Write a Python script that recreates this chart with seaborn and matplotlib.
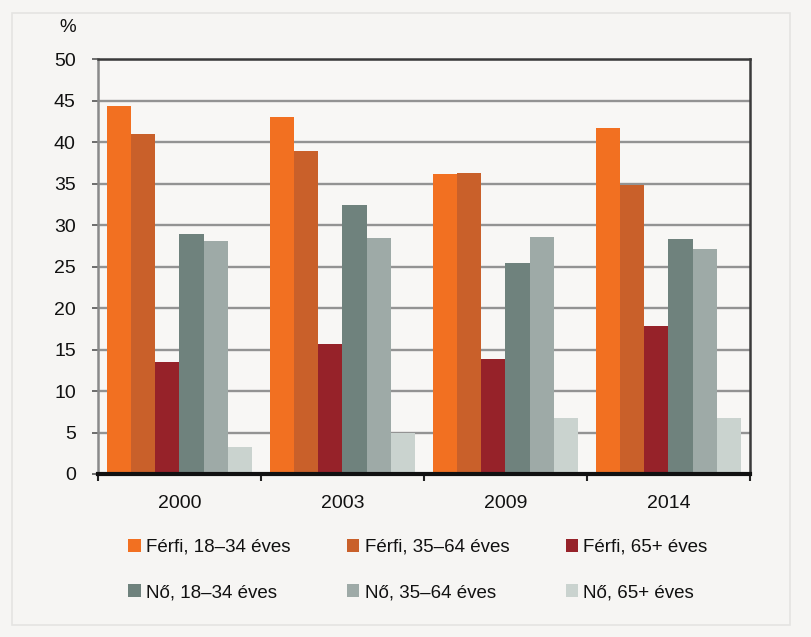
import matplotlib
matplotlib.use("Agg")
import matplotlib.pyplot as plt
import seaborn as sns
import pandas as pd
from matplotlib.patches import Rectangle, Patch
from matplotlib.ticker import FixedLocator

years = ["2000", "2003", "2009", "2014"]
groups = ["Férfi, 18–34 éves", "Férfi, 35–64 éves", "Férfi, 65+ éves",
          "Nő, 18–34 éves", "Nő, 35–64 éves", "Nő, 65+ éves"]
ferfi_18_34 = [44.4, 43.0, 36.2, 41.7]
ferfi_35_64 = [41.0, 38.9, 36.3, 34.8]
ferfi_65 = [13.5, 15.7, 13.9, 17.8]
no_18_34 = [28.9, 32.4, 25.4, 28.3]
no_35_64 = [28.1, 28.4, 28.6, 27.1]
no_65 = [3.3, 5.0, 6.7, 6.8]
series = [ferfi_18_34, ferfi_35_64, ferfi_65, no_18_34, no_35_64, no_65]
yticks = [0, 5, 10, 15, 20, 25, 30, 35, 40, 45, 50]

colors = ["#f27021", "#c9602a", "#962229", "#6f827d", "#9eaaa7", "#cad3cf"]

rows = []
for g, vals in zip(groups, series):
    for y, v in zip(years, vals):
        rows.append({"Év": y, "Csoport": g, "Érték": v})
df = pd.DataFrame(rows)

sns.set_theme(style="white")
plt.rcParams["font.family"] = ["Liberation Sans Narrow", "Liberation Sans", "DejaVu Sans"]

bg = "#f6f5f3"
fig = plt.figure(figsize=(8.12, 6.37), dpi=100, facecolor=bg)
ax = fig.add_axes([98/812, 1-474/637, (750-98)/812, (474-59.3)/637])
ax.set_facecolor("#f8f7f5")

fig.patches.append(Rectangle((12/812, 1-625/637), (790-12)/812, (625-13)/637,
                             transform=fig.transFigure, fill=False,
                             edgecolor="#e4e4e2", linewidth=1.2, zorder=0))

sns.barplot(data=df, x="Év", y="Érték", hue="Csoport", order=years,
            hue_order=groups, palette=colors, width=0.885, gap=0,
            saturation=1, linewidth=0, ax=ax, legend=False, errorbar=None)

ax.set_ylim(0, 50)
ax.set_xlim(-0.5, 3.5)
ax.set_yticks(yticks)
ax.set_yticklabels([str(t) for t in yticks])
ax.grid(axis="y", color="#939393", linewidth=1.7, zorder=0)
ax.set_axisbelow(True)
ax.set_xlabel("")
ax.set_ylabel("")

for s in ["top", "right"]:
    ax.spines[s].set_color("#3a3a3a")
    ax.spines[s].set_linewidth(1.8)
ax.spines["left"].set_color("#8a8a8a")
ax.spines["left"].set_linewidth(1.8)
ax.spines["bottom"].set_color("#111111")
ax.spines["bottom"].set_linewidth(3)
ax.spines["bottom"].set_zorder(5)

ax.tick_params(axis="y", which="major", left=True, length=4, width=1.2,
               color="#555555", pad=12, labelsize=14, labelcolor="#111111")
ax.tick_params(axis="x", which="major", bottom=False, length=0, pad=15,
               labelsize=14, labelcolor="#111111")
ax.xaxis.set_minor_locator(FixedLocator([-0.5, 0.5, 1.5, 2.5, 3.5]))
ax.tick_params(axis="x", which="minor", bottom=True, length=5, width=1.5,
               color="#222222", direction="out")

ax.text(-0.034, 1.055, "%", transform=ax.transAxes, ha="right", va="bottom",
        fontsize=13.5, color="#111111")

handles = [Patch(facecolor=c, edgecolor="none") for c in colors]
order = [0, 3, 1, 4, 2, 5]
fig.legend([handles[i] for i in order], [groups[i] for i in order],
           loc="center", bbox_to_anchor=(418/812, 1-570/637), ncol=3,
           frameon=False, fontsize=13.5, handlelength=0.65, handleheight=0.65,
           handletextpad=0.3, columnspacing=3.0, labelspacing=1.5,
           labelcolor="#111111")

fig.savefig("out.png", dpi=100, facecolor=bg)
